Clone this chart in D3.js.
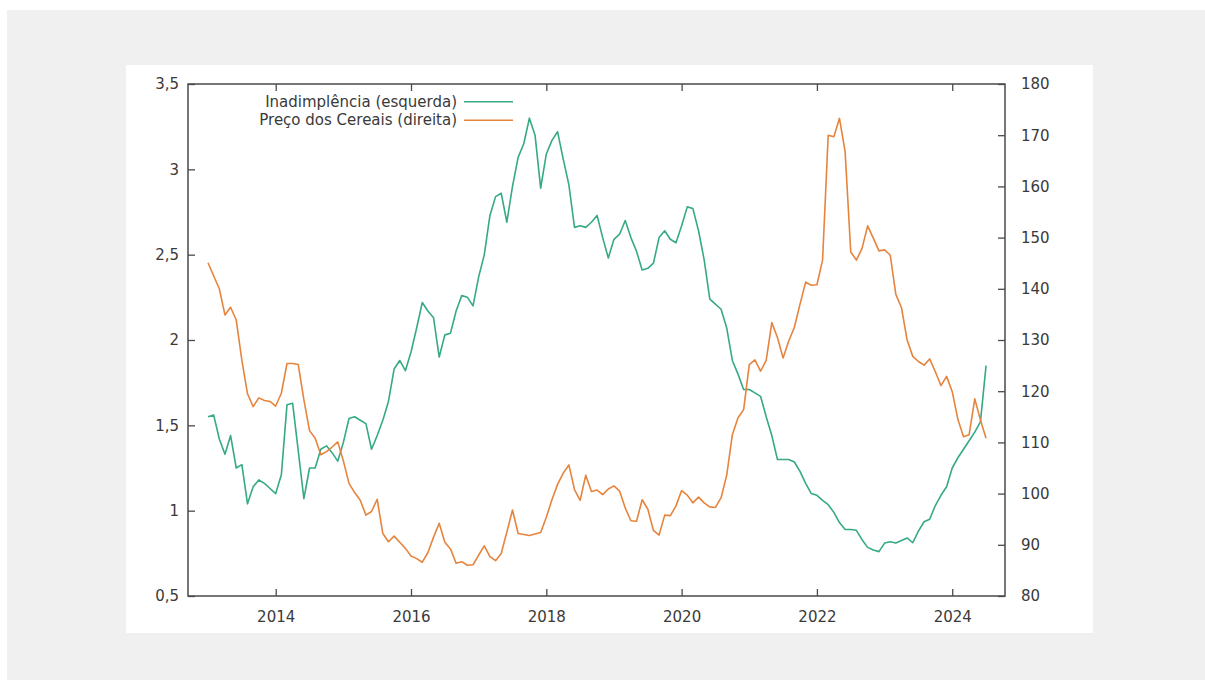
<!DOCTYPE html>
<html>
<head>
<meta charset="utf-8">
<script src="https://cdn.jsdelivr.net/npm/d3@7"></script>
<style>
  html, body { margin: 0; padding: 0; background: #ffffff; }
  svg { display: block; }
  text { font-family: "DejaVu Sans", Verdana, sans-serif; fill: #3a3a3a; }
</style>
</head>
<body>
<svg id="chart" width="1205" height="680"></svg>
<script>
// Monthly series, January 2013 to July 2024
const startYear = 2013;

// Inadimplência (%), left axis
const inadimplencia = [
  1.55, 1.56, 1.42, 1.33, 1.44, 1.25, 1.27, 1.04, 1.14, 1.18, 1.16, 1.13,
  1.10, 1.21, 1.62, 1.63, 1.35, 1.07, 1.25, 1.25, 1.36, 1.38, 1.34, 1.29,
  1.40, 1.54, 1.55, 1.53, 1.51, 1.36, 1.44, 1.53, 1.64, 1.83, 1.88, 1.82,
  1.93, 2.07, 2.22, 2.17, 2.13, 1.90, 2.03, 2.04, 2.17, 2.26, 2.25, 2.20,
  2.37, 2.50, 2.73, 2.84, 2.86, 2.69, 2.90, 3.07, 3.15, 3.30, 3.20, 2.89,
  3.09, 3.17, 3.22, 3.06, 2.91, 2.66, 2.67, 2.66, 2.69, 2.73, 2.60, 2.48,
  2.59, 2.62, 2.70, 2.60, 2.52, 2.41, 2.42, 2.45, 2.60, 2.64, 2.59, 2.57,
  2.67, 2.78, 2.77, 2.64, 2.47, 2.24, 2.21, 2.18, 2.07, 1.88, 1.80, 1.71,
  1.71, 1.69, 1.67, 1.55, 1.44, 1.30, 1.30, 1.30, 1.285, 1.23, 1.16, 1.10,
  1.09, 1.06, 1.035, 0.99, 0.93, 0.89, 0.89, 0.885, 0.83, 0.785, 0.77, 0.76,
  0.81, 0.818, 0.81, 0.825, 0.84, 0.812, 0.88, 0.935, 0.95, 1.03, 1.09, 1.14,
  1.25, 1.31, 1.36, 1.41, 1.46, 1.52, 1.85
];

// Preço dos Cereais (índice), right axis
const precoCereais = [
  145.1, 142.5, 140.0, 134.9, 136.4, 133.9, 126.0, 119.5, 117.0, 118.7, 118.2, 118.0,
  117.1, 119.6, 125.4, 125.4, 125.2, 118.3, 112.3, 110.8, 107.6, 108.2, 109.1, 110.1,
  106.4, 102.0, 100.2, 98.7, 95.8, 96.5, 98.9, 92.2, 90.6, 91.7, 90.5, 89.3,
  87.8, 87.3, 86.6, 88.5, 91.5, 94.2, 90.5, 89.2, 86.4, 86.7, 86.0, 86.1,
  88.0, 89.8, 87.7, 86.9, 88.3, 92.5, 96.8, 92.2, 92.0, 91.8, 92.1, 92.4,
  95.4, 98.8, 101.8, 104.0, 105.6, 100.8, 98.7, 103.6, 100.4, 100.7, 99.8, 100.9,
  101.5, 100.5, 97.2, 94.7, 94.6, 98.8, 97.0, 92.8, 91.9, 95.8, 95.7, 97.6,
  100.6, 99.7, 98.2, 99.3, 98.2, 97.4, 97.3, 99.2, 103.6, 111.5, 114.8, 116.4,
  125.2, 126.1, 123.9, 126.0, 133.4, 130.5, 126.5, 129.8, 132.5, 137.0, 141.3, 140.7,
  140.8, 145.6, 170.0, 169.7, 173.3, 166.8, 147.2, 145.6, 147.9, 152.3, 149.9, 147.4,
  147.6, 146.6, 138.9, 136.3, 130.0, 126.8, 125.8, 125.1, 126.3, 123.8, 121.1, 122.9,
  119.9, 114.5, 111.1, 111.5, 118.5, 114.4, 110.8
];

const xTickYears = [2014, 2016, 2018, 2020, 2022, 2024];
const yLeftTicks = [0.5, 1, 1.5, 2, 2.5, 3, 3.5];
const yRightTicks = [80, 90, 100, 110, 120, 130, 140, 150, 160, 170, 180];

const seriesNames = ["Inadimplência (esquerda)", "Preço dos Cereais (direita)"];
const seriesColors = ["#36a987", "#e6843d"];

const svg = d3.select("#chart");

// Page backdrop and white chart card
svg.append("rect").attr("x", 7).attr("y", 10).attr("width", 1198).attr("height", 670).attr("fill", "#f0f0f0");
svg.append("rect").attr("x", 126).attr("y", 65).attr("width", 967).attr("height", 568).attr("fill", "#ffffff");

const plot = { left: 188, right: 1005, top: 84, bottom: 596 };

const x = d3.scaleLinear().domain([2012.7036, 2024.78]).range([plot.left, plot.right]);
const yL = d3.scaleLinear().domain([0.5, 3.5]).range([plot.bottom, plot.top]);
const yR = d3.scaleLinear().domain([80, 180]).range([plot.bottom, plot.top]);

const fmtComma = v => d3.format("")(v).replace(".", ",");
const axisColor = "#4a4a4a";
const tickLen = 7;

function styleAxis(g) {
  g.select(".domain").remove();
  g.selectAll(".tick line").attr("stroke", axisColor).attr("stroke-width", 1.3);
  g.selectAll(".tick text").attr("fill", "#3a3a3a").style("font-size", "15px")
    .style("font-family", '"DejaVu Sans", Verdana, sans-serif');
}

// Bottom axis (ticks point inward)
svg.append("g").attr("transform", `translate(0,${plot.bottom})`)
  .call(d3.axisBottom(x).tickValues(xTickYears).tickFormat(d3.format("d")).tickSizeInner(-tickLen).tickSizeOuter(0).tickPadding(15))
  .call(styleAxis);

// Mirrored year ticks on the top border
svg.append("g").attr("transform", `translate(0,${plot.top})`)
  .call(d3.axisTop(x).tickValues(xTickYears).tickFormat("").tickSizeInner(-tickLen).tickSizeOuter(0))
  .call(styleAxis);

// Left axis
svg.append("g").attr("transform", `translate(${plot.left},0)`)
  .call(d3.axisLeft(yL).tickValues(yLeftTicks).tickFormat(fmtComma).tickSizeInner(-tickLen).tickSizeOuter(0).tickPadding(9))
  .call(styleAxis);

// Right axis
svg.append("g").attr("transform", `translate(${plot.right},0)`)
  .call(d3.axisRight(yR).tickValues(yRightTicks).tickFormat(d3.format("d")).tickSizeInner(-tickLen).tickSizeOuter(0).tickPadding(16))
  .call(styleAxis);

// Frame
svg.append("rect")
  .attr("x", plot.left).attr("y", plot.top)
  .attr("width", plot.right - plot.left).attr("height", plot.bottom - plot.top)
  .attr("fill", "none").attr("stroke", axisColor).attr("stroke-width", 1.5);

const monthX = i => x(startYear + i / 12);

const lineL = d3.line().x((d, i) => monthX(i)).y(d => yL(d));
const lineR = d3.line().x((d, i) => monthX(i)).y(d => yR(d));

svg.append("path").datum(inadimplencia)
  .attr("d", lineL).attr("fill", "none").attr("stroke", seriesColors[0])
  .attr("stroke-width", 1.6).attr("stroke-linejoin", "round");

svg.append("path").datum(precoCereais)
  .attr("d", lineR).attr("fill", "none").attr("stroke", seriesColors[1])
  .attr("stroke-width", 1.6).attr("stroke-linejoin", "round");

// Legend, top left inside the frame
const legend = svg.append("g");
seriesNames.forEach((name, k) => {
  const cy = 101.7 + k * 18.5;
  legend.append("text")
    .attr("x", 457).attr("y", cy).attr("dy", "0.35em")
    .attr("text-anchor", "end").style("font-size", "15px")
    .text(name);
  legend.append("line")
    .attr("x1", 464).attr("x2", 513).attr("y1", cy).attr("y2", cy)
    .attr("stroke", seriesColors[k]).attr("stroke-width", 1.6);
});
</script>
</body>
</html>
